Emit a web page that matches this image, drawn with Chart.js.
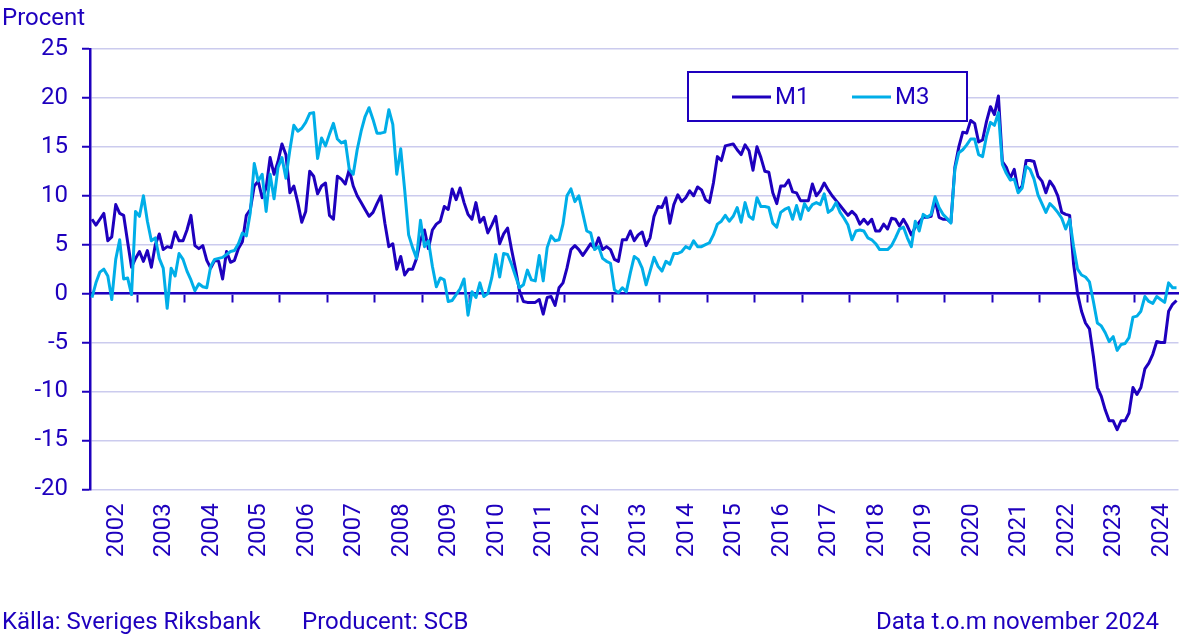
<!DOCTYPE html>
<html>
<head>
<meta charset="utf-8">
<script src="https://cdn.jsdelivr.net/npm/chart.js@4.4.1/dist/chart.umd.min.js"></script>
<style>
html, body { margin: 0; padding: 0; background: #fff; }
#wrap { width: 1193px; height: 643px; position: relative; }
</style>
</head>
<body>
<div id="wrap"><canvas id="chart"></canvas></div>
<script>
// year labels on the x axis, monthly values jan 2002 - nov 2024
const years = ['2002', '2003', '2004', '2005', '2006', '2007', '2008', '2009', '2010', '2011', '2012', '2013',
    '2014', '2015', '2016', '2017', '2018', '2019', '2020', '2021', '2022', '2023', '2024'];

const m1 = [
    7.6, 7.0, 7.6, 8.2, 5.4, 5.8, 9.1, 8.2, 8.0, 5.3, 2.7, 3.6,          // 2002
    4.3, 3.3, 4.4, 2.7, 5.0, 6.1, 4.5, 4.8, 4.7, 6.3, 5.4, 5.4,          // 2003
    6.5, 8.0, 4.9, 4.6, 4.9, 3.4, 2.6, 3.4, 3.3, 1.5, 4.3, 3.2,          // 2004
    3.4, 4.6, 5.3, 8.0, 8.6, 11.0, 11.5, 9.8, 10.8, 13.9, 12.2, 13.5,    // 2005
    15.3, 14.2, 10.3, 11.0, 9.3, 7.3, 8.4, 12.5, 12.0, 10.2, 11.0, 11.3, // 2006
    8.0, 7.6, 12.0, 11.7, 11.2, 12.7, 11.0, 10.0, 9.3, 8.6, 7.9, 8.3,    // 2007
    9.2, 10.0, 7.2, 4.8, 5.1, 2.5, 3.8, 1.9, 2.5, 2.5, 3.6, 5.5,         // 2008
    6.5, 4.6, 6.5, 7.1, 7.4, 8.9, 8.6, 10.7, 9.6, 10.8, 9.3, 8.1,        // 2009
    7.6, 9.3, 7.3, 7.8, 6.2, 7.0, 7.9, 5.1, 6.1, 6.7, 4.5, 2.5,          // 2010
    0.3, -0.8, -0.9, -0.9, -0.9, -0.6, -2.1, -0.4, -0.3, -1.2, 0.6, 1.1, // 2011
    2.6, 4.5, 4.9, 4.5, 3.9, 4.5, 5.1, 4.6, 5.7, 4.5, 4.8, 4.5,          // 2012
    3.5, 3.3, 5.5, 5.5, 6.4, 5.4, 6.0, 6.3, 4.9, 5.7, 7.9, 8.9,          // 2013
    8.8, 9.8, 7.2, 9.1, 10.1, 9.4, 9.8, 10.5, 10.0, 10.9, 10.6, 9.6,     // 2014
    9.3, 11.3, 14.0, 13.6, 15.1, 15.2, 15.3, 14.7, 14.2, 15.2, 14.6, 12.6, // 2015
    15.0, 13.9, 12.5, 12.4, 10.3, 9.2, 11.0, 11.0, 11.6, 10.4, 10.3, 9.5, // 2016
    9.5, 9.5, 11.2, 10.0, 10.5, 11.3, 10.6, 10.0, 9.5, 9.0, 8.5, 8.0,    // 2017
    8.4, 8.0, 7.1, 7.6, 7.1, 7.6, 6.4, 6.4, 7.1, 6.6, 7.7, 7.6,          // 2018
    6.9, 7.6, 6.9, 6.0, 6.8, 7.3, 7.8, 7.8, 7.9, 9.6, 7.8, 7.6,          // 2019
    7.6, 7.3, 12.9, 15.0, 16.5, 16.4, 17.7, 17.4, 15.5, 15.7, 17.6, 19.1, // 2020
    18.3, 20.2, 13.5, 12.9, 11.8, 12.7, 10.5, 11.0, 13.6, 13.6, 13.5, 12.0, // 2021
    11.5, 10.3, 11.5, 10.9, 10.0, 8.3, 8.1, 8.0, 3.0, 0.0, -1.8, -3.0,   // 2022
    -3.6, -6.4, -9.6, -10.5, -11.9, -13.0, -13.0, -13.9, -13.0, -13.0, -12.2, -9.6, // 2023
    -10.3, -9.6, -7.7, -7.1, -6.2, -4.9, -5.0, -5.0, -1.8, -1.1, -0.7    // 2024
];

const m3 = [
    -0.4, 1.1, 2.2, 2.5, 1.8, -0.6, 3.5, 5.5, 1.5, 1.6, -0.1, 8.4,       // 2002
    7.9, 10.0, 7.4, 5.4, 5.7, 3.6, 2.6, -1.5, 2.6, 1.8, 4.1, 3.5,        // 2003
    2.3, 1.4, 0.3, 1.0, 0.7, 0.6, 2.8, 3.5, 3.6, 3.7, 4.0, 4.3,          // 2004
    4.4, 5.1, 6.2, 5.9, 8.3, 13.3, 11.5, 12.2, 8.4, 12.2, 9.7, 12.9,     // 2005
    13.9, 11.8, 14.7, 17.2, 16.6, 16.9, 17.5, 18.4, 18.5, 13.8, 15.9, 15.1, // 2006
    16.3, 17.4, 15.8, 15.4, 15.6, 12.7, 12.2, 14.7, 16.6, 18.1, 19.0, 17.8, // 2007
    16.4, 16.4, 16.5, 18.8, 17.3, 12.2, 14.8, 10.6, 6.0, 4.7, 3.6, 7.5,  // 2008
    4.8, 5.4, 2.8, 0.7, 1.6, 1.4, -0.8, -0.7, -0.1, 0.5, 1.5, -2.2,      // 2009
    0.2, -0.4, 1.1, -0.3, 0.0, 1.6, 4.0, 1.7, 4.1, 4.0, 3.0, 1.8,        // 2010
    0.6, 0.9, 2.4, 1.4, 1.3, 3.9, 1.3, 4.7, 5.9, 5.4, 5.5, 7.1,          // 2011
    10.0, 10.7, 9.4, 10.0, 8.2, 6.4, 6.2, 4.5, 4.8, 3.6, 3.3, 3.1,       // 2012
    0.4, 0.1, 0.6, 0.2, 2.1, 3.8, 3.5, 2.6, 0.9, 2.3, 3.7, 2.8,          // 2013
    2.3, 3.3, 3.0, 4.1, 4.1, 4.3, 4.8, 4.6, 5.4, 4.8, 4.8, 5.0,          // 2014
    5.2, 6.0, 7.1, 7.4, 8.0, 7.4, 7.9, 8.8, 7.3, 9.3, 7.9, 7.6,          // 2015
    9.8, 8.9, 8.9, 8.8, 7.2, 6.8, 8.3, 8.6, 8.8, 7.6, 9.0, 7.6,          // 2016
    9.2, 8.5, 9.1, 9.3, 9.1, 10.2, 8.3, 8.6, 9.3, 8.3, 7.7, 7.0,         // 2017
    5.5, 6.4, 6.5, 6.4, 5.7, 5.5, 5.1, 4.5, 4.5, 4.5, 4.9, 5.7,          // 2018
    6.6, 6.8, 5.7, 4.8, 7.4, 6.4, 8.1, 7.8, 8.1, 9.9, 8.8, 8.1,          // 2019
    7.7, 7.2, 12.7, 14.4, 14.7, 15.2, 15.8, 15.8, 14.2, 14.0, 16.1, 17.5, // 2020
    17.2, 18.5, 13.2, 12.3, 11.6, 11.7, 10.3, 10.8, 13.0, 12.7, 11.7, 10.1, // 2021
    9.2, 8.3, 9.2, 8.8, 8.3, 7.7, 6.6, 7.6, 4.8, 2.5, 1.9, 1.7,          // 2022
    1.2, -0.8, -3.0, -3.3, -4.0, -4.9, -4.4, -5.8, -5.2, -5.1, -4.5, -2.4, // 2023
    -2.3, -1.8, -0.3, -0.8, -1.0, -0.3, -0.6, -0.9, 1.1, 0.6, 0.6        // 2024
];

const yTicks = [-20, -15, -10, -5, 0, 5, 10, 15, 20, 25];

const DARK = '#1e00be';
const LIGHT = '#00aee8';
const GRID = '#cbcbee';
const FONT_SIZE = 24;

Chart.defaults.font.family = 'Roboto';
Chart.defaults.font.size = FONT_SIZE;
Chart.defaults.color = DARK;

// legend box + footer texts drawn on the canvas
const extras = {
    id: 'extras',
    afterDraw(chart) {
        const ctx = chart.ctx;
        ctx.save();
        ctx.font = FONT_SIZE + 'px Roboto';
        ctx.fillStyle = DARK;
        ctx.textBaseline = 'alphabetic';
        ctx.textAlign = 'left';
        ctx.fillText('Procent', 2, 25);
        ctx.fillText('Källa: Sveriges Riksbank', 2, 629);
        ctx.fillText('Producent: SCB', 302, 629);
        ctx.textAlign = 'right';
        ctx.fillText('Data t.o.m november 2024', 1159, 629);

        // legend
        ctx.fillStyle = '#fff';
        ctx.fillRect(688, 72, 279, 49);
        ctx.strokeStyle = DARK;
        ctx.lineWidth = 2;
        ctx.strokeRect(688, 72, 279, 49);
        const items = chart.data.datasets.map(d => [d.label, d.borderColor]);
        const xs = [732, 852];
        items.forEach(([label, color], k) => {
            ctx.strokeStyle = color;
            ctx.lineWidth = 3;
            ctx.beginPath();
            ctx.moveTo(xs[k], 97);
            ctx.lineTo(xs[k] + 39, 97);
            ctx.stroke();
            ctx.fillStyle = DARK;
            ctx.textAlign = 'left';
            ctx.textBaseline = 'middle';
            ctx.fillText(label, xs[k] + 43, 98);
        });
        ctx.restore();
    }
};

const ctx = document.getElementById('chart').getContext('2d');
const chart = new Chart(ctx, {
    type: 'line',
    data: {
        datasets: [
            {
                label: 'M1',
                data: m1.map((v, i) => ({ x: i, y: v })),
                borderColor: DARK,
                borderWidth: 3,
                pointRadius: 0,
                order: 1,
            },
            {
                label: 'M3',
                data: m3.map((v, i) => ({ x: i, y: v })),
                borderColor: LIGHT,
                borderWidth: 3,
                pointRadius: 0,
                order: 0,
            },
        ]
    },
    options: {
        responsive: true,
        maintainAspectRatio: false,
        animation: false,
        events: [],
        layout: {
            padding: { top: 49, right: 14.5, bottom: 0, left: 0 }
        },
        elements: {
            line: { borderJoinStyle: 'round', tension: 0 }
        },
        scales: {
            x: {
                type: 'linear',
                min: -0.5,
                max: 274.5,
                grid: { display: false, drawTicks: false },
                border: { display: false },
                afterBuildTicks: (scale) => {
                    scale.ticks = years.map((y, k) => ({ value: k * 12 + 6.3 }));
                },
                afterFit: (scale) => {
                    scale.height = 153.7;
                    scale.paddingLeft = 0;
                    scale.paddingRight = 0;
                },
                ticks: {
                    autoSkip: false,
                    minRotation: 90,
                    maxRotation: 90,
                    padding: 14,
                    callback: (value) => years[Math.round((value - 6.3) / 12)]
                }
            },
            x2: {
                type: 'linear',
                position: { y: 0 },
                min: -0.5,
                max: 274.5,
                grid: {
                    display: true,
                    drawOnChartArea: false,
                    drawTicks: true,
                    tickLength: 8,
                    tickColor: DARK,
                    tickWidth: 2,
                },
                border: { display: true, color: DARK, width: 2.5 },
                afterBuildTicks: (scale) => {
                    scale.ticks = years.slice(1).map((y, k) => ({ value: (k + 1) * 12 - 0.5 }));
                },
                afterFit: (scale) => {
                    scale.height = 0;
                    scale.paddingLeft = 0;
                    scale.paddingRight = 0;
                },
                ticks: { display: false }
            },
            y: {
                min: -20,
                max: 25,
                afterBuildTicks: (scale) => {
                    scale.ticks = yTicks.map(v => ({ value: v }));
                },
                afterFit: (scale) => { scale.width = 90; },
                grid: {
                    color: GRID,
                    lineWidth: 1.5,
                    tickColor: DARK,
                    tickLength: 8,
                    tickWidth: 2,
                },
                border: { display: true, color: DARK, width: 2.5 },
                ticks: {
                    padding: 14,
                }
            },
        },
        plugins: {
            legend: { display: false },
            tooltip: { enabled: false },
            title: { display: false },
        }
    },
    plugins: [extras]
});
</script>
</body>
</html>
